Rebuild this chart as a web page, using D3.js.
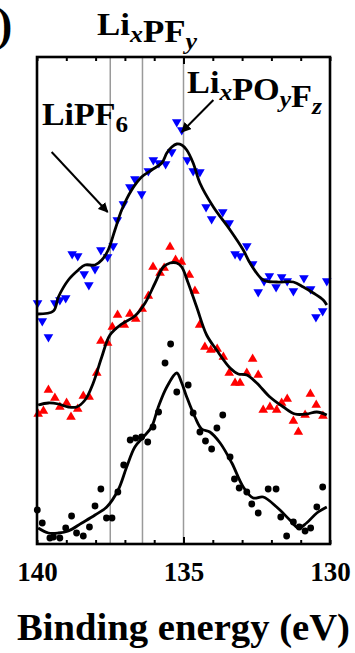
<!DOCTYPE html>
<html>
<head>
  <meta charset="UTF-8">
  <title>P 2p XPS</title>
  <script src="https://d3js.org/d3.v7.min.js"></script>
  <style>
    body { margin: 0; background: #fff; }
    text { font-family: "Liberation Serif", "Times New Roman", serif; font-weight: bold; fill: #000; }
  </style>
</head>
<body>
<svg id="svg1" width="355" height="653"></svg>
<script>

// binding energy (eV) and intensity (arbitrary units)
const bluePts = [[139.98,241],[139.82,223],[139.61,207],[139.39,241],[139.22,244],[139.02,246],[138.80,290],[138.61,288],
  [138.39,270],[138.23,259],[138.02,275],[137.82,294],[137.59,287],[137.40,298],[137.26,324],[137.05,340],[136.83,357],
  [136.66,365],[136.43,350],[136.20,373],[136.03,384],[135.84,381],[135.61,380],[135.40,392],[135.23,422],[135.06,414],
  [134.87,384],[134.67,373],[134.44,372],[134.23,337],[134.04,325],[133.66,332],[133.44,321],[133.24,290],[133.07,288],
  [132.84,298],[132.64,280],[132.45,252],[132.25,263],[132.07,268],[131.84,257],[131.65,267],[131.46,263],[131.25,253],
  [130.89,266],[130.66,255],[130.48,227],[130.25,233],[130.11,263]];
const blueFit = [[139.98,230],[139.44,233],[139.27,247],[138.93,264],[138.59,274],[138.36,279],[138.02,279],[137.79,284],
  [137.57,294],[137.34,314],[137.11,334],[136.77,354],[136.43,367],[136.09,374],[135.74,381],[135.57,391],[135.40,397],
  [135.23,400],[135.06,399],[134.89,394],[134.67,381],[134.44,361],[133.98,337],[133.41,314],[132.96,294],[132.73,281],
  [132.28,264],[131.82,262],[131.25,262],[130.91,257],[130.57,251],[130.23,244],[130.11,239]];

const redPts = [[139.96,130],[139.78,133],[139.61,154],[139.39,146],[139.22,137],[138.99,141],[138.84,127],[138.61,135],
  [138.42,148],[138.22,147],[137.96,171],[137.82,203],[137.59,201],[137.43,217],[137.25,229],[137.02,219],[136.83,230],
  [136.63,225],[136.41,235],[136.20,248],[136.04,277],[135.80,271],[135.66,276],[135.46,297],[135.27,284],[135.07,282],
  [134.80,269],[134.61,253],[134.45,219],[134.27,197],[134.07,194],[133.85,195],[133.64,187],[133.44,171],[133.24,161],
  [133.07,161],[132.84,171],[132.64,185],[132.45,169],[132.28,134],[132.05,137],[131.82,134],[131.65,141],[131.46,145],
  [131.25,123],[131.08,112],[130.85,129],[130.67,150],[130.47,139],[130.24,128]];
const redFit = [[139.96,139],[139.61,141],[139.27,140],[138.93,137],[138.65,137],[138.36,144],[138.08,161],[137.79,187],
  [137.51,209],[137.11,220],[136.66,228],[136.31,241],[135.97,261],[135.69,277],[135.46,281],[135.23,281],[135.06,277],
  [134.84,261],[134.55,237],[134.21,209],[133.87,194],[133.41,176],[133.13,170],[132.84,169],[132.50,161],[132.05,147],
  [131.59,137],[131.19,130],[130.80,130],[130.45,132],[130.11,129]];

const blackPts = [[139.99,34],[139.82,21],[139.56,6],[139.44,7],[139.22,6],[139.02,16],[138.82,28],[138.65,11],[138.42,8],
  [138.21,17],[138.02,38],[137.82,55],[137.63,26],[137.44,26],[137.24,52],[137.04,79],[136.82,104],[136.63,106],
  [136.43,107],[136.22,102],[136.04,117],[135.85,132],[135.63,181],[135.44,200],[135.23,152],[134.84,159],[134.67,131],
  [134.44,112],[134.25,103],[134.04,95],[133.86,116],[133.66,129],[133.41,87],[133.26,65],[133.10,56],[132.84,52],
  [132.67,40],[132.45,31],[132.11,55],[131.84,55],[131.68,27],[131.48,8],[131.25,22],[131.05,17],[130.85,13],
  [130.66,16],[130.45,37],[130.25,57]];
const blackFit = [[139.96,16],[139.61,11],[139.27,11],[138.93,13],[138.47,21],[138.02,29],[137.62,37],[137.23,54],
  [136.94,77],[136.66,97],[136.37,107],[136.09,117],[135.86,137],[135.57,157],[135.23,171],[135.06,161],[134.89,147],
  [134.61,127],[134.38,115],[134.10,112],[133.75,101],[133.35,81],[132.96,57],[132.62,46],[132.28,47],[131.82,37],
  [131.37,24],[131.08,16],[130.80,21],[130.45,31],[130.11,37]];

const refLines = [137.5, 136.4, 135.0];
const minorTicks = d3.range(130, 141, 1);
const labelTicks = [140, 135, 130];

const svg = d3.select("#svg1");
const margin = {top: 57, right: 25, bottom: 109, left: 37};
const W = +svg.attr("width"), H = +svg.attr("height");

const x = d3.scaleLinear([140, 130], [margin.left, W - margin.right]);
const y = d3.scaleLinear([0, 487], [H - margin.bottom, margin.top]);

// reference lines
svg.selectAll(".ref").data(refLines).join("line")
  .attr("x1", d => x(d)).attr("x2", d => x(d))
  .attr("y1", y(0)).attr("y2", y(487))
  .attr("stroke", "#9a9a9a").attr("stroke-width", 1.5);

// markers + fitted curves
const triSym = d3.symbol(d3.symbolTriangle, 40);
function drawSeries(pts, fit, color, shape) {
  const g = svg.append("g");
  if (shape === "circle") {
    g.selectAll("circle").data(pts).join("circle")
      .attr("cx", d => x(d[0])).attr("cy", d => y(d[1]))
      .attr("r", 3.4).attr("fill", color);
  } else {
    g.selectAll("path").data(pts).join("path")
      .attr("d", triSym)
      .attr("transform", d => `translate(${x(d[0])},${y(d[1])})` + (shape === "down" ? " rotate(180)" : ""))
      .attr("fill", color);
  }
  const line = d3.line().x(d => x(d[0])).y(d => y(d[1])).curve(d3.curveCatmullRom);
  svg.append("path").attr("d", line(fit))
    .attr("fill", "none").attr("stroke", "#000").attr("stroke-width", 2.8)
    .attr("stroke-linejoin", "round");
}
drawSeries(bluePts, blueFit, "#0000ff", "down");
drawSeries(redPts, redFit, "#ff0000", "up");
drawSeries(blackPts, blackFit, "#000", "circle");

// ticks (inward on top and bottom)
svg.append("g").attr("transform", `translate(0,${y(0)})`)
  .call(d3.axisBottom(x).tickValues(minorTicks).tickSize(-4).tickFormat(""))
  .call(g => g.select(".domain").remove())
  .call(g => g.selectAll("line").attr("stroke-width", 2).attr("y2", d => d === 135 ? -7 : -4));
svg.append("g").attr("transform", `translate(0,${y(487)})`)
  .call(d3.axisTop(x).tickValues(minorTicks).tickSize(-4).tickFormat(""))
  .call(g => g.select(".domain").remove())
  .call(g => g.selectAll("line").attr("stroke-width", 2).attr("y2", d => d === 135 ? 7 : 4));

svg.append("g").attr("transform", `translate(0,${y(0)})`)
  .call(d3.axisBottom(x).tickValues(labelTicks).tickSize(0).tickPadding(18).tickFormat(d3.format("d")))
  .call(g => g.select(".domain").remove())
  .call(g => g.selectAll("text").attr("font-size", 27).attr("font-family", "Liberation Serif").attr("font-weight", "bold"));

// frame
svg.append("rect")
  .attr("x", x(140)).attr("y", y(487))
  .attr("width", x(130) - x(140)).attr("height", y(0) - y(487))
  .attr("fill", "none").attr("stroke", "#000").attr("stroke-width", 2.6);

svg.append("text").attr("x", 17).attr("y", 640)
  .attr("font-size", 38).attr("textLength", 333).attr("lengthAdjust", "spacingAndGlyphs")
  .text("Binding energy (eV)");

// panel letter, cut at the edge as in the source figure
svg.append("text").attr("x", -3).attr("y", 40).attr("font-size", 46).attr("font-weight", "normal").text(")");

function chem(xp, yp, len, parts) {
  const t = svg.append("text").attr("x", xp).attr("y", yp).attr("font-size", 31)
    .attr("textLength", len).attr("lengthAdjust", "spacingAndGlyphs");
  parts.forEach(p => {
    if (p.sub) {
      t.append("tspan").attr("dy", 7).attr("font-size", 23)
        .attr("font-style", p.it ? "italic" : "normal").text(p.s);
      t.append("tspan").attr("dy", -7).text("");
    } else {
      t.append("tspan").text(p.s);
    }
  });
  return t;
}
chem(97, 35, 100, [{s: "Li"}, {s: "x", sub: true, it: true}, {s: "PF"}, {s: "y", sub: true, it: true}]);
chem(42, 125, 86, [{s: "LiPF"}, {s: "6", sub: true}]);
chem(187, 93, 135, [{s: "Li"}, {s: "x", sub: true, it: true}, {s: "PO"}, {s: "y", sub: true, it: true},
  {s: "F"}, {s: "z", sub: true, it: true}]);

// arrows
svg.append("defs").append("marker")
  .attr("id", "head").attr("viewBox", "0 0 10 10").attr("refX", 9).attr("refY", 5)
  .attr("markerWidth", 5).attr("markerHeight", 5).attr("orient", "auto")
  .append("path").attr("d", "M0,0 L10,5 L0,10 z").attr("fill", "#000");
const arrows = [[[139.50, 392], [137.59, 332]], [[133.98, 444], [135.06, 412]]];
svg.selectAll(".arrow").data(arrows).join("line")
  .attr("x1", d => x(d[0][0])).attr("y1", d => y(d[0][1]))
  .attr("x2", d => x(d[1][0])).attr("y2", d => y(d[1][1]))
  .attr("stroke", "#000").attr("stroke-width", 2).attr("marker-end", "url(#head)");

</script>
</body>
</html>
